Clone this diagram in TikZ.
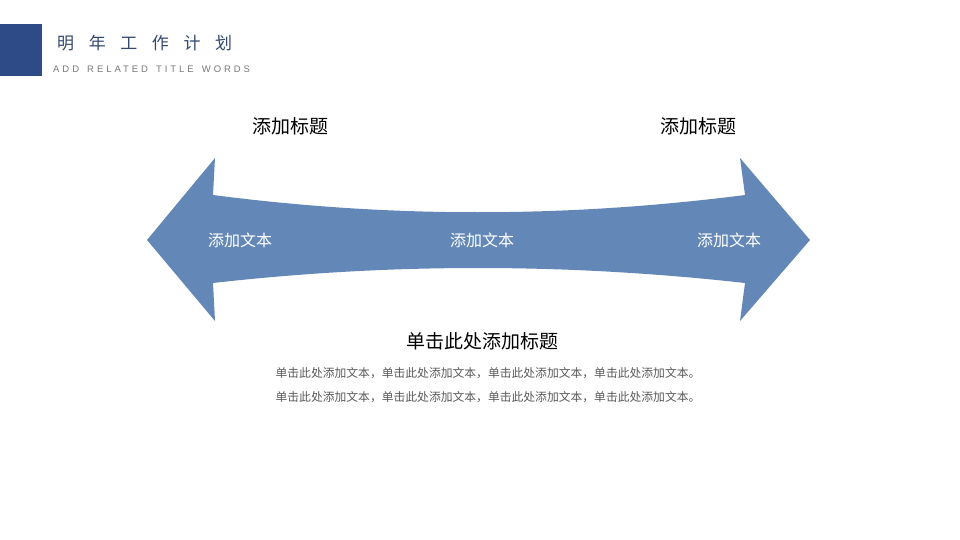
\documentclass[tikz,border=0pt]{standalone}
\usepackage{fontspec}
\setmainfont{Noto Sans CJK SC}
\newfontfamily\subfont[LetterSpace=31, WordSpace=1.45]{Liberation Sans}
\usetikzlibrary{positioning}
\definecolor{arrowblue}{RGB}{99,136,183}
\definecolor{navy}{RGB}{46,74,135}
\definecolor{titleblue}{RGB}{52,72,112}
\definecolor{subgray}{RGB}{120,120,120}
\definecolor{textgray}{RGB}{89,89,89}
\newcommand{\gap}{\hspace{14.6pt}}

\begin{document}
\begin{tikzpicture}[x=1pt, y=-1pt, every node/.style={inner sep=0pt, align=center},
    head/.style={font=\fontsize{19}{22}\selectfont, text=black},
    inarrow/.style={font=\fontsize{16}{19}\selectfont, text=white}]
    \useasboundingbox (0,0) rectangle (960,540);

    % header
    \fill[navy] (0,24) rectangle (42,76);
    \node (title) [anchor=west, text=titleblue, font=\fontsize{17}{20}\selectfont] at (57,43) {明\gap 年\gap 工\gap 作\gap 计\gap 划};
    \node (sub) [anchor=west, text=subgray, font=\subfont\fontsize{9.5}{11}\selectfont] at (53,69) {ADD RELATED TITLE WORDS};

    % double arrow
    \fill[arrowblue] (147,240) -- (215,158) -- (213,195)
        .. controls (390,218) and (565,218) .. (745,195) -- (740,158) -- (810,240)
        -- (740,321) -- (745,283)
        .. controls (565,263) and (390,263) .. (213,283) -- (215,321) -- cycle;

    \node (lhead) [head] at (290,126) {添加标题};
    \node (rhead) [head] at (698,126) {添加标题};
    \node (ltext) [inarrow] at (240,240) {添加文本};
    \node (mtext) [inarrow] at (482,240) {添加文本};
    \node (rtext) [inarrow] at (729,240) {添加文本};

    \node (btitle) [head] at (482,341) {单击此处添加标题};
    \node (body) [below=17pt of btitle, text=textgray, font=\fontsize{11.8}{24}\selectfont, xshift=6pt]
        {单击此处添加文本，单击此处添加文本，单击此处添加文本，单击此处添加文本。\\
         单击此处添加文本，单击此处添加文本，单击此处添加文本，单击此处添加文本。};
\end{tikzpicture}
\end{document}
